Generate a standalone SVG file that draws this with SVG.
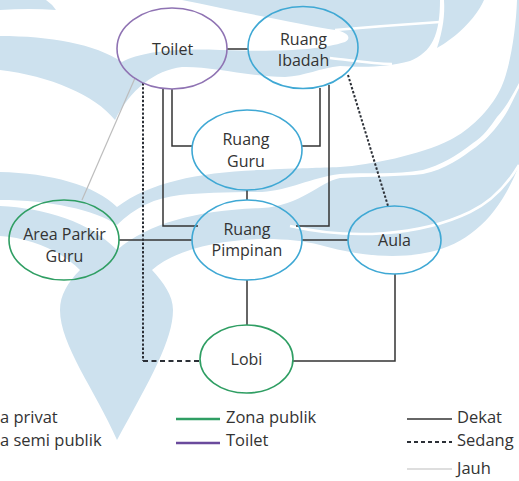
<svg xmlns="http://www.w3.org/2000/svg" width="519" height="481" viewBox="0 0 519 481">
  <style>
    .wm { fill: #cde1ee; stroke: none; }
    .wm-line { fill: none; stroke: #ffffff; stroke-width: 2.5; }
    .node { fill: none; stroke-width: 1.6; }
    .blue { stroke: #3fa8d4; }
    .green { stroke: #2f9e63; }
    .purple { stroke: #8f73b3; }
    .label { font-family: "Open Sans", "Liberation Sans", sans-serif; font-size: 16px; fill: #333333; text-anchor: middle; }
    .legend { font-family: "Open Sans", "Liberation Sans", sans-serif; font-size: 16.5px; fill: #333333; }
    .near { fill: none; stroke: #333333; stroke-width: 1.5; }
    .mid { fill: none; stroke: #2b2f36; stroke-width: 2; }
    .far { fill: none; stroke: #bdbdbd; stroke-width: 1.2; }
  </style>

  <rect width="519" height="481" fill="#ffffff"/>

  <!-- background emblem -->
  <g id="emblem">
    <path class="wm" d="M0,0 H46 Q52,4 56,10 Q30,8 0,10 Z"/>
    <path class="wm" d="M0,36 C50,36 95,44 122,62 C140,52 175,48 220,50 C280,52 320,50 345,42 C352,38 348,32 335,30 C300,24 240,12 182,0 L440,0 C440,35 432,52 410,61 C385,68 360,67 340,66 C320,68 305,76 285,77 C245,76 210,66 182,67 C155,70 130,90 115,120 C95,95 50,76 0,70 Z"/>
    <path class="wm" d="M444,0 L484,0 C475,20 455,38 437,48 C443,30 445,15 444,0 Z"/>
    <path class="wm" d="M0,172 C50,173 95,185 117,207 C150,182 200,172 260,170 C300,168 320,168 340,167 C370,165 420,155 450,140 C470,130 490,110 500,90 C510,70 516,30 517,0 L519,0 L519,83 C510,100 505,108 497,117 C490,127 483,137 473,143 C455,157 440,165 423,170 C395,175 365,172 340,174 C310,178 290,190 262,192 C230,192 200,193 180,195 C155,198 135,207 117,225 C95,210 50,200 0,200 Z"/>
    <path class="wm" d="M0,206 C45,208 90,222 117,250 C150,222 200,210 262,208 C300,206 320,182 340,178 C370,176 400,177 423,174 C445,170 462,157 476,147 C488,138 496,128 501,121 C508,112 513,100 519,88 L519,165 C500,215 470,243 430,252 C395,260 355,255 320,245 C270,232 185,240 152,270 C163,282 173,295 173,310 C173,340 150,380 117,440 C95,390 60,345 60,310 C60,295 68,282 80,270 C60,250 30,238 0,236 Z"/>
    <path class="wm-line" d="M335,30 C370,27 410,24 440,22"/>
    <path class="wm-line" stroke-width="2" d="M330,58 C350,60 370,64 392,64"/>
    <path class="wm-line" d="M290,226 C350,240 420,236 470,212 C495,200 510,180 519,165"/>
  </g>

  <!-- connectors -->
  <g id="connectors">
    <line class="near" x1="227" y1="49" x2="248" y2="49"/>
    <path class="near" d="M172,89 V146 H192"/>
    <path class="near" d="M163,88 V226 H198"/>
    <path class="near" d="M320,88 V146 H302"/>
    <path class="near" d="M329,85 V226 H296"/>
    <line class="near" x1="247" y1="190" x2="247" y2="200"/>
    <line class="near" x1="119" y1="240" x2="192" y2="240"/>
    <line class="near" x1="302" y1="240" x2="348" y2="240"/>
    <line class="near" x1="247" y1="280" x2="247" y2="325"/>
    <path class="near" d="M395,274 V361 H293"/>
    <path class="mid" d="M143,83 V361" stroke-dasharray="2.4 1.8"/>
    <path class="mid" d="M143,361 H200" stroke-dasharray="5 3.5"/>
    <line class="mid" x1="348" y1="75" x2="388" y2="206" stroke-dasharray="2.4 1.8"/>
    <line class="far" x1="135" y1="78" x2="82" y2="200"/>
  </g>

  <!-- nodes -->
  <g id="toilet">
    <ellipse class="node purple" cx="172" cy="48.5" rx="55" ry="40.5"/>
    <text class="label" x="172.5" y="55">Toilet</text>
  </g>
  <g id="ruang-ibadah">
    <ellipse class="node blue" cx="303" cy="47.5" rx="55" ry="41"/>
    <text class="label" x="303.5" y="44.5">Ruang</text>
    <text class="label" x="303.5" y="65.5">Ibadah</text>
  </g>
  <g id="ruang-guru">
    <ellipse class="node blue" cx="247" cy="150" rx="55" ry="40"/>
    <text class="label" x="246" y="145">Ruang</text>
    <text class="label" x="246" y="166.5">Guru</text>
  </g>
  <g id="ruang-pimpinan">
    <ellipse class="node blue" cx="247" cy="240" rx="55" ry="40"/>
    <text class="label" x="247" y="235">Ruang</text>
    <text class="label" x="247" y="256">Pimpinan</text>
  </g>
  <g id="area-parkir-guru">
    <ellipse class="node green" cx="64" cy="240" rx="55" ry="40"/>
    <text class="label" x="64.5" y="240">Area Parkir</text>
    <text class="label" x="64.5" y="262">Guru</text>
  </g>
  <g id="aula">
    <ellipse class="node blue" cx="394.5" cy="240" rx="46.5" ry="34"/>
    <text class="label" x="394.5" y="245.5">Aula</text>
  </g>
  <g id="lobi">
    <ellipse class="node green" cx="246.5" cy="359" rx="46.5" ry="34"/>
    <text class="label" x="246.5" y="365">Lobi</text>
  </g>

  <!-- legend -->
  <g id="legend">
    <text class="legend" x="0" y="423">a privat</text>
    <text class="legend" x="0" y="446">a semi publik</text>

    <line x1="176" y1="419" x2="220" y2="419" stroke="#2f9e63" stroke-width="2.6"/>
    <text class="legend" x="226" y="423">Zona publik</text>
    <line x1="176" y1="443" x2="220" y2="443" stroke="#6a4a9c" stroke-width="2.6"/>
    <text class="legend" x="226" y="446">Toilet</text>

    <line class="near" x1="407" y1="419" x2="452" y2="419"/>
    <text class="legend" x="457" y="423">Dekat</text>
    <line class="mid" x1="407" y1="442" x2="452" y2="442" stroke-dasharray="4 3"/>
    <text class="legend" x="457" y="446">Sedang</text>
    <line class="far" x1="407" y1="469" x2="452" y2="469"/>
    <text class="legend" x="457" y="474">Jauh</text>
  </g>
</svg>
